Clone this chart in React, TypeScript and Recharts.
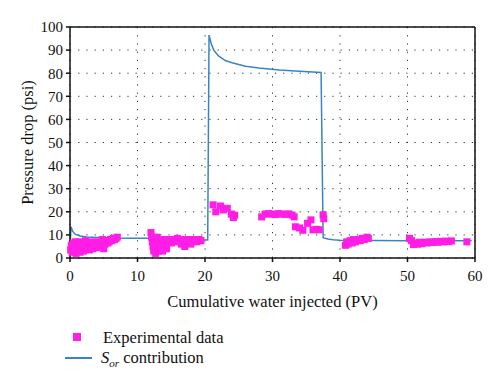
import { ComposedChart, Line, Scatter, XAxis, YAxis, ZAxis, CartesianGrid, ReferenceLine } from "recharts";

// S_or contribution (model curve)
const sorPv = [0, 0.15, 0.4, 0.8, 1.5, 2.5, 4, 6, 9, 12, 15, 18, 20.4, 20.6, 20.9, 21.3, 22, 23, 24, 26, 28, 31, 34, 37.2, 37.5, 38.2, 39, 40, 45, 50, 55, 59.5];
const sorPressure = [5, 13.5, 11.5, 10.2, 9.5, 9.1, 8.9, 8.7, 8.6, 8.5, 8.2, 8.0, 7.8, 96.5, 93, 90, 87.5, 85.5, 84.5, 83, 82.2, 81.4, 80.8, 80.3, 8.8, 8.2, 7.9, 7.7, 7.6, 7.5, 7.5, 7.5];

// experimental pressure drop readings
const expPv = [
  0.1, 0.2, 0.3, 0.4, 0.5, 0.6, 0.7, 0.8, 0.9, 1.0, 1.1, 1.2, 1.4, 1.5, 1.6, 1.8, 1.9, 2.0, 2.2, 2.3, 2.5, 2.7, 2.9, 3.0, 3.2, 3.4, 3.6, 3.8, 4.0, 4.2, 4.4, 4.6, 4.8, 5.0, 5.2, 5.4, 5.6, 5.8, 6.0, 6.2, 6.4, 6.6, 6.8, 7.0,
  12.0, 12.1, 12.2, 12.3, 12.4, 12.5, 12.6, 12.7, 12.8, 12.9, 13.0, 13.1, 13.3, 13.5, 13.7, 13.9, 14.1, 14.3, 14.5, 14.8, 15.0, 15.3, 15.6, 15.9, 16.2, 16.5, 16.8, 17.0, 17.3, 17.6, 17.9, 18.2, 18.5, 18.8, 19.1, 19.4,
  21.2, 21.6, 22.3, 22.7, 23.3, 23.9, 24.2, 24.4,
  28.4, 28.9, 29.4, 29.9, 30.4, 30.9, 31.4, 31.9, 32.4, 32.9, 33.2, 33.4, 34.0, 34.5, 35.2, 35.7, 36.0, 36.5, 36.9, 37.5, 37.6,
  40.8, 41.0, 41.2, 41.5, 41.8, 42.0, 42.3, 42.6, 43.0, 43.3, 43.6, 44.0, 44.2,
  50.3, 50.6, 50.9, 51.2, 51.5, 51.8, 52.1, 52.5, 52.9, 53.3, 53.7, 54.1, 54.5, 54.9, 55.3, 55.7, 56.1, 56.5, 58.8,
];
const expPressure = [
  3.5, 5.5, 2.5, 4, 6.5, 3, 5, 7, 2, 4.5, 6, 3.5, 7, 2.5, 5, 4, 6.5, 3, 5.5, 7.5, 4.5, 6, 3.5, 5, 7, 4, 5.5, 6.5, 4.5, 7, 5.5, 6.5, 8, 4, 6, 7.5, 6.5, 7, 8, 7.5, 8.5, 8, 8.5, 9,
  11, 9, 7, 5, 3, 8, 6, 2, 4, 9, 6, 3, 7, 5, 3, 8, 6, 4, 7.5, 8, 6.5, 8, 7, 8.5, 7.5, 6, 8, 5, 7, 8, 6, 7.5, 8, 7, 8, 7.5,
  23, 20, 22.5, 20.8, 21.5, 19, 17.5, 18.5,
  17.8, 19, 19.2, 19, 18.8, 19.2, 19, 18.9, 19.1, 18.6, 17.8, 13.5, 13, 12, 15, 16.5, 12.2, 12.4, 12.2, 18.7, 17,
  5.5, 7, 6, 7.5, 6.5, 8, 7, 8, 7.5, 8.5, 8, 9, 8.5,
  8.5, 7.5, 5.8, 6.5, 6, 6.8, 6.2, 6.8, 6.5, 7, 6.7, 7.1, 6.8, 7.2, 7, 7.3, 7.1, 7.4, 7,
];

const xTicks = [0, 10, 20, 30, 40, 50, 60];
const yTicks = [0, 10, 20, 30, 40, 50, 60, 70, 80, 90, 100];

const sorData = sorPv.map((x, i) => ({ x, y: sorPressure[i] }));
const expData = expPv.map((x, i) => ({ x, y: expPressure[i] }));

const FONT = "Liberation Serif, Tinos, Times New Roman, DejaVu Serif, serif";
const PINK = "#ff1ee6";
const BLUE = "#3a84c2";

export default function App() {
  const tick = { fill: "#111", fontSize: 15, style: { fontFamily: FONT } };
  return (
    <div style={{ position: "absolute", left: 0, top: 0, width: 500, height: 386, background: "#fff", fontFamily: FONT }}>
      <ComposedChart width={500} height={386} margin={{ top: 27, right: 25, bottom: 78, left: 0 }} style={{ fontFamily: FONT }}>
        <CartesianGrid stroke="#333" strokeDasharray="1.2 7" />
        <XAxis
          type="number"
          dataKey="x"
          domain={[0, 60]}
          ticks={xTicks}
          height={50}
          tick={tick}
          tickSize={4}
          tickMargin={8}
          stroke="#111"
          strokeWidth={1.5}
          label={{ value: "Cumulative water injected (PV)", position: "insideBottom", offset: 1, fill: "#111", fontSize: 16.5, style: { fontFamily: FONT } }}
        />
        <YAxis
          type="number"
          dataKey="y"
          domain={[0, 100]}
          ticks={yTicks}
          width={70}
          tick={tick}
          tickSize={4}
          tickMargin={3}
          stroke="#111"
          strokeWidth={1.5}
          label={{ value: "Pressure drop (psi)", angle: -90, position: "insideLeft", offset: 27, fill: "#111", fontSize: 16.5, style: { textAnchor: "middle", fontFamily: FONT } }}
        />
        <ZAxis range={[50, 50]} />
        <ReferenceLine y={100} stroke="#111" strokeWidth={1.5} />
        <ReferenceLine x={60} stroke="#111" strokeWidth={1.5} />
        <Scatter data={expData} dataKey="y" fill={PINK} shape="square" isAnimationActive={false} />
        <Line data={sorData} dataKey="y" type="linear" stroke={BLUE} strokeWidth={1.5} dot={false} isAnimationActive={false} />
      </ComposedChart>

      <div style={{ position: "absolute", left: 0, top: 326, fontSize: 16.5, color: "#111", fontFamily: FONT }}>
        <div style={{ position: "absolute", left: 73, top: 7, width: 8, height: 8, background: PINK }} />
        <div style={{ position: "absolute", left: 103, top: 2, whiteSpace: "nowrap" }}>Experimental data</div>
        <div style={{ position: "absolute", left: 65, top: 31, width: 27, height: 1.5, background: BLUE }} />
        <div style={{ position: "absolute", left: 101, top: 22, whiteSpace: "nowrap" }}>
          <i>S</i><sub style={{ fontStyle: "italic", fontSize: 11 }}>or</sub> contribution
        </div>
      </div>
    </div>
  );
}
